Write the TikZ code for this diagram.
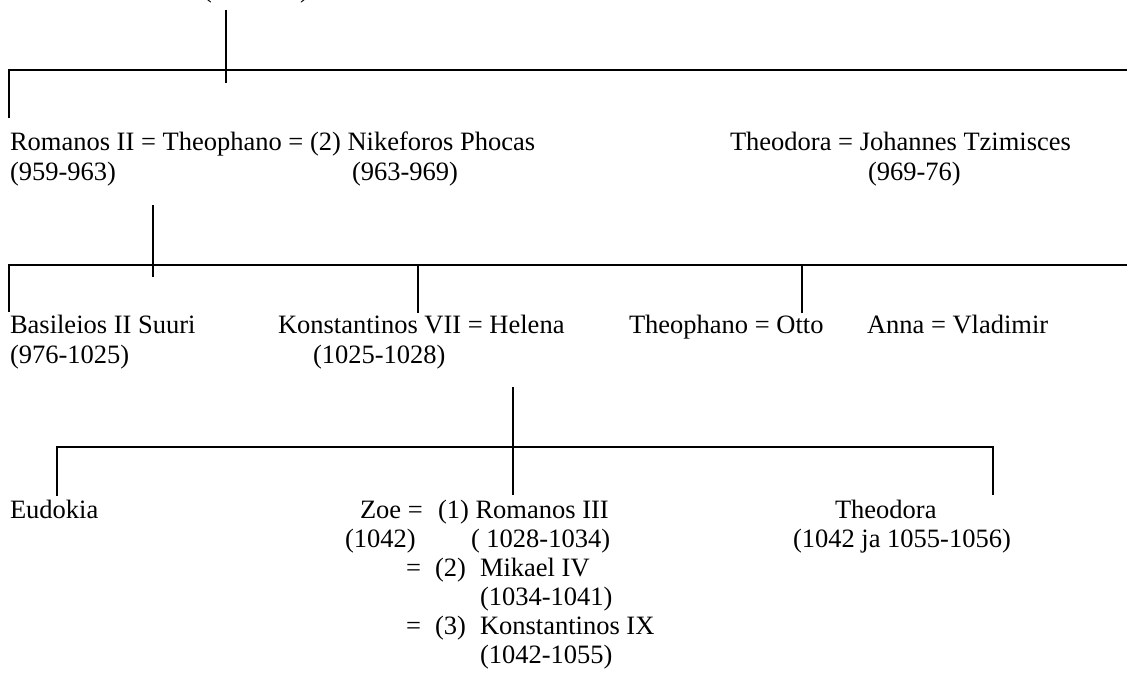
\documentclass[tikz,border=0pt]{standalone}
\usepackage{fontspec}
\setmainfont{Liberation Serif}
\begin{document}
\begin{tikzpicture}[x=1pt,y=-1pt,
  txt/.style={anchor=base west,inner sep=0pt,outer sep=0pt,font=\fontsize{26.5}{29}\selectfont},
  link/.style={line width=1.4pt,black}]
\useasboundingbox (0,0) rectangle (1127,675);
\clip (0,0) rectangle (1127,675);

% top (cut off) entry
\node[txt] (top) at (203,-3) {(\hphantom{913-959})};

% generation 1
\node[txt] (romanos) at (10,150) {Romanos II = Theophano = (2) Nikeforos Phocas};
\node[txt] (romanosd) at (10,180) {(959-963)};
\node[txt] (nikeforosd) at (352,180) {(963-969)};
\node[txt] (theodora1) at (730,150) {Theodora = Johannes Tzimisces};
\node[txt] (johannesd) at (868,180) {(969-76)};

% generation 2
\node[txt] (basil) at (10,333) {Basileios II Suuri};
\node[txt] (basild) at (10,363) {(976-1025)};
\node[txt] (konst) at (278,333) {Konstantinos VII = Helena};
\node[txt] (konstd) at (313,363) {(1025-1028)};
\node[txt] (theophano) at (629,333) {Theophano = Otto};
\node[txt] (anna) at (867,333) {Anna = Vladimir};

% generation 3
\node[txt] (eudokia) at (10,518) {Eudokia};
\node[txt] (zoe) at (360,518) {Zoe =};
\node[txt] (zoed) at (345,547) {(1042)};
\node[txt] (rom3) at (438,518) {(1) Romanos III};
\node[txt] (rom3d) at (471,547) {( 1028-1034)};
\node[txt] (eq2) at (406,576) {=};
\node[txt] (n2) at (435,576) {(2)};
\node[txt] (mikael) at (480,576) {Mikael IV};
\node[txt] (mikaeld) at (480,605) {(1034-1041)};
\node[txt] (eq3) at (406,634) {=};
\node[txt] (n3) at (435,634) {(3)};
\node[txt] (konst9) at (480,634) {Konstantinos IX};
\node[txt] (konst9d) at (480,663) {(1042-1055)};
\node[txt] (theodora2) at (835,518) {Theodora};
\node[txt] (theodora2d) at (793,547) {(1042 ja 1055-1056)};

% connector points
\coordinate (a0) at (226,10);   \coordinate (a1) at (226,83);
\coordinate (a2) at (9,118);    \coordinate (a3) at (1130,70);
\coordinate (b0) at (153,205);  \coordinate (b1) at (153,277);
\coordinate (b2) at (9,312);    \coordinate (b3) at (1130,265);
\coordinate (b4) at (418,265);  \coordinate (b5) at (418,313);
\coordinate (b6) at (802,265);  \coordinate (b7) at (802,313);
\coordinate (c0) at (513,387);  \coordinate (c1) at (513,495);
\coordinate (c2) at (57,496);   \coordinate (c3) at (993,447);
\coordinate (c4) at (993,495);

% connectors
\draw[link] (a0) -- (a1);
\draw[link] (a2) |- (a3);
\draw[link] (b0) -- (b1);
\draw[link] (b2) |- (b3);
\draw[link] (b4) -- (b5);
\draw[link] (b6) -- (b7);
\draw[link] (c0) -- (c1);
\draw[link] (c2) |- (c3) -- (c4);
\end{tikzpicture}
\end{document}
